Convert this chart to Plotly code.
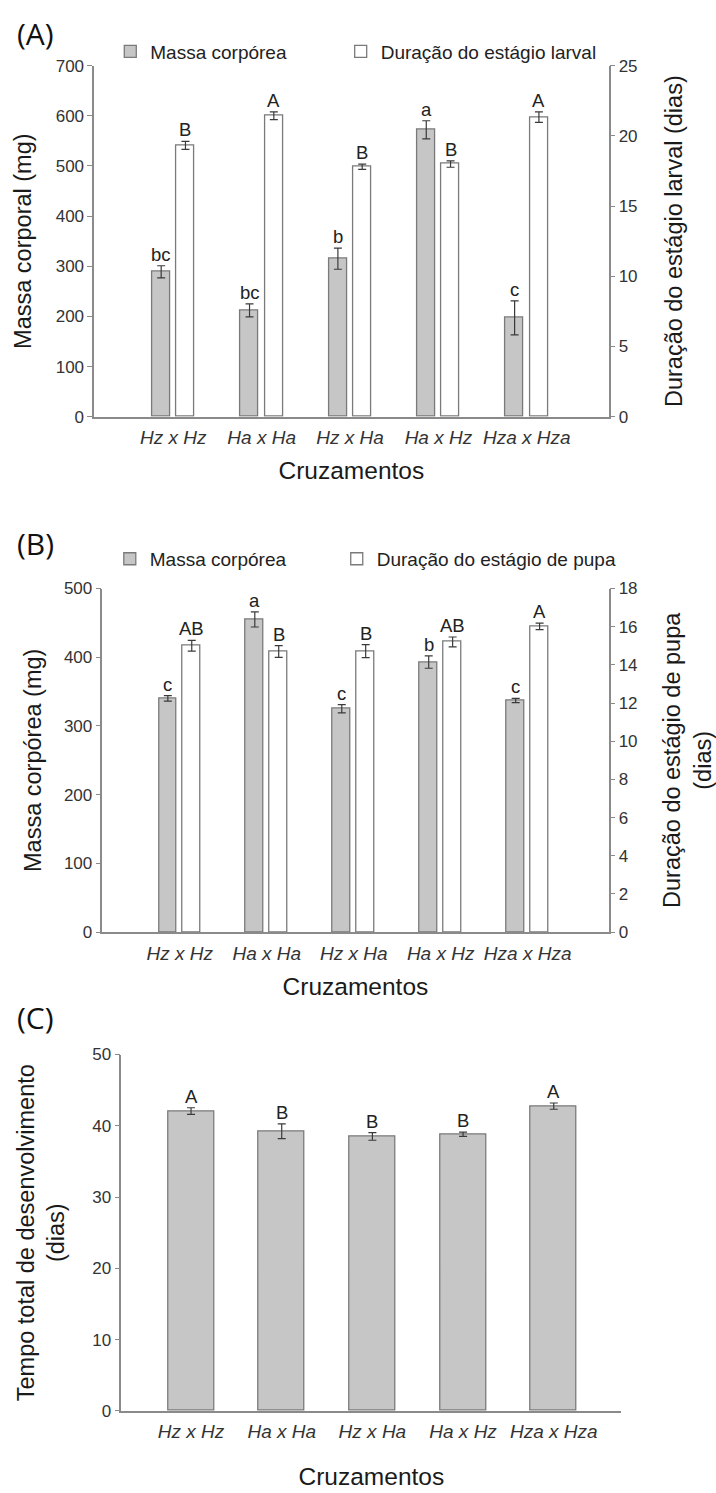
import plotly.graph_objects as go

W, H = 716, 1493

categories = ["Hz x Hz", "Ha x Ha", "Hz x Ha", "Ha x Hz", "Hza x Hza"]

# Panel A
massa_A = [289, 212, 315, 572, 197]
massa_A_err = [12, 13, 21, 18, 34]
massa_A_let = ["bc", "bc", "b", "a", "c"]
larval_A = [19.32, 21.43, 17.8, 17.99, 21.33]
larval_A_err = [0.28, 0.28, 0.19, 0.23, 0.38]
larval_A_let = ["B", "A", "B", "B", "A"]

# Panel B
massa_B = [340, 455, 325, 393, 337]
massa_B_err = [4, 11, 6, 9, 3]
massa_B_let = ["c", "a", "c", "b", "c"]
pupa_B = [15.0, 14.7, 14.72, 15.2, 16.02]
pupa_B_err = [0.28, 0.31, 0.34, 0.26, 0.17]
pupa_B_let = ["AB", "B", "B", "AB", "A"]

# Panel C
total_C = [42.07, 39.24, 38.5, 38.82, 42.76]
total_C_err = [0.46, 1.04, 0.53, 0.3, 0.44]
total_C_let = ["A", "B", "B", "B", "A"]

GRAY = "#c6c6c6"
EDGE = "#7a7a7a"
ERR = "#3a3a3a"
TXT = "#333333"
FONT = "Liberation Sans, Arial, sans-serif"

def px_x(p):
    return p / W

def px_y(p):
    return 1 - p / H

idx = list(range(len(categories)))
bw = 0.205
gap = 0.07

fig = go.Figure()

def bar(x, y, err, color, name, xa, ya, offset, width, legend=None, show=True):
    fig.add_trace(go.Bar(
        x=x, y=y, name=name, xaxis=xa, yaxis=ya,
        offset=offset, width=width,
        marker=dict(color=color, line=dict(color=EDGE, width=1.3)),
        error_y=dict(type="data", array=err, color=ERR, thickness=1.2, width=4),
        showlegend=show, legend=legend,
    ))

# Panel A
bar(idx, massa_A, massa_A_err, GRAY, "Massa corpórea", "x", "y", -(bw + gap / 2), bw, "legend")
bar(idx, larval_A, larval_A_err, "white", "Duração do estágio larval", "x", "y2", gap / 2, bw, "legend2")
# Panel B
bar(idx, massa_B, massa_B_err, GRAY, "Massa corpórea", "x2", "y3", -(bw + gap / 2), bw, "legend3")
bar(idx, pupa_B, pupa_B_err, "white", "Duração do estágio de pupa", "x2", "y4", gap / 2, bw, "legend4")
# Panel C
bar(idx, total_C, total_C_err, GRAY, "Tempo total", "x3", "y5", -0.2525, 0.505, show=False)

ann = []
def letters(vals, errs, labs, dx, xref, yref):
    for i, (v, e, l) in enumerate(zip(vals, errs, labs)):
        ann.append(dict(x=i + dx, y=v + e, xref=xref, yref=yref, text=l,
                        showarrow=False, yanchor="bottom", yshift=-1,
                        font=dict(family=FONT, size=18.5, color="#222222")))

cA = bw / 2 + gap / 2
letters(massa_A, massa_A_err, massa_A_let, -cA, "x", "y")
letters(larval_A, larval_A_err, larval_A_let, cA, "x", "y2")
letters(massa_B, massa_B_err, massa_B_let, -cA, "x2", "y3")
letters(pupa_B, pupa_B_err, pupa_B_let, cA, "x2", "y4")
letters(total_C, total_C_err, total_C_let, 0, "x3", "y5")

for lab, yp in [("(A)", 25), ("(B)", 541), ("(C)", 1022)]:
    ann.append(dict(x=px_x(15), y=px_y(yp), xref="paper", yref="paper", text=lab,
                    showarrow=False, xanchor="left", yanchor="middle",
                    font=dict(family="Open Sans, Liberation Sans, sans-serif", size=30, color="#111111")))

tickfont = dict(family=FONT, size=17, color=TXT)
catfont = dict(family=FONT, size=19, color=TXT, style="italic")
titlefont = dict(family=FONT, size=23.5, color="#1a1a1a")

def xax(domain, rng, anchor, title_standoff):
    return dict(domain=domain, anchor=anchor, range=rng, tickmode="array",
                tickvals=idx, ticktext=categories, tickfont=catfont,
                showline=True, linecolor="#8a8a8a", linewidth=1.5,
                ticks="", showgrid=False, zeroline=False, ticklabelstandoff=3,
                title=dict(text="Cruzamentos", font=dict(family=FONT, size=24.5, color="#1a1a1a"),
                           standoff=title_standoff))

def yax(domain, rng, dtick, anchor, title, side="left", overlaying=None, standoff=15):
    d = dict(domain=domain, anchor=anchor, range=rng, dtick=dtick, tick0=0,
             showline=True, linecolor="#8a8a8a", linewidth=1.5,
             ticks="outside", ticklen=5, tickcolor="#8a8a8a", tickwidth=1.2,
             tickfont=tickfont, showgrid=False, zeroline=False, side=side,
             title=dict(text=title, font=titlefont, standoff=standoff))
    if overlaying:
        d["overlaying"] = overlaying
    return d

dA_x = [px_x(95.7), px_x(618)]
dA_y = [px_y(413), px_y(57.3)]
dB_x = [px_x(104), px_x(618)]
dB_y = [px_y(935), px_y(587)]
dC_x = [px_x(123.3), px_x(631)]
dC_y = [px_y(1420), px_y(1059)]

def leg(xc, yc):
    return dict(orientation="h", x=px_x(xc - 20), y=px_y(yc), xanchor="left", yanchor="middle",
                font=dict(family=FONT, size=19, color="#222222"),
                bgcolor="rgba(0,0,0,0)")

fig.update_layout(
    width=W, height=H, margin=dict(l=0, r=0, t=0, b=0),
    paper_bgcolor="white", plot_bgcolor="white",
    font=dict(family=FONT, color=TXT),
    xaxis=xax(dA_x, [-0.895, 4.925], "y", 15),
    yaxis=yax(dA_y, [0, 700], 100, "x", "Massa corporal (mg)", standoff=17),
    yaxis2=yax(dA_y, [0, 25], 5, "x", "Duração do estágio larval (dias)", side="right", overlaying="y", standoff=29),
    xaxis2=xax(dB_x, [-0.89, 4.93], "y3", 15),
    yaxis3=yax(dB_y, [0, 500], 100, "x2", "Massa corpórea (mg)", standoff=16),
    yaxis4=yax(dB_y, [0, 18], 2, "x2", "Duração do estágio de pupa<br>(dias)", side="right", overlaying="y3", standoff=31),
    xaxis3=xax(dC_x, [-0.768, 4.745], "y5", 26),
    yaxis5=yax(dC_y, [0, 50], 10, "x3", "Tempo total de desenvolvimento<br>(dias)", standoff=21),
    legend=leg(132, 43),
    legend2=leg(366, 43),
    legend3=leg(131.5, 557),
    legend4=leg(362, 557),
    annotations=ann,
    bargap=0,
)

fig.write_html("out.html")
